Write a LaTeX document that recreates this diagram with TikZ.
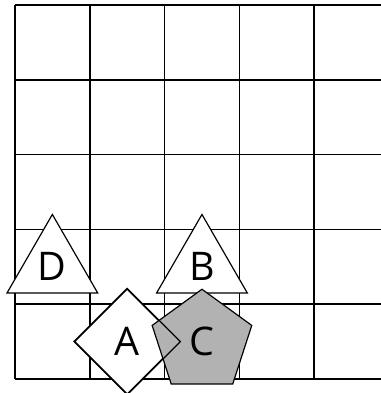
\documentclass[tikz,border=0pt]{standalone}
\usepackage{fontspec}
\setmainfont{Open Sans}
\usetikzlibrary{shapes.geometric}
\tikzset{
  gridline/.style={line width=0.6pt, black},
  shapebase/.style={draw=black, line width=0.45pt, inner sep=0pt, minimum size=1.4cm,
    font=\fontsize{15}{18}\selectfont},
  tri/.style={shapebase, regular polygon, regular polygon sides=3, fill=white},
  dia/.style={shapebase, regular polygon, regular polygon sides=4, regular polygon rotate=45, fill=white},
  pent/.style={shapebase, regular polygon, regular polygon sides=5, fill=gray!60},
}
\begin{document}
\begin{tikzpicture}
\useasboundingbox (-0.2,-0.187) rectangle (4.893,5.067);
\clip (-0.2,-0.187) rectangle (4.893,5.067);
\draw[gridline] (0,0) grid (5,5);
\node[tri] (D) at (0.5,1.5) {D};
\node[tri] (B) at (2.5,1.5) {B};
\node[dia] (A) at (1.5,0.5) {A};
\node[pent] (C) at (2.5,0.5) {C};
\draw[line width=0.45pt] (A.corner 1) -- (A.corner 2) -- (A.corner 3) -- (A.corner 4) -- cycle;
\end{tikzpicture}
\end{document}
